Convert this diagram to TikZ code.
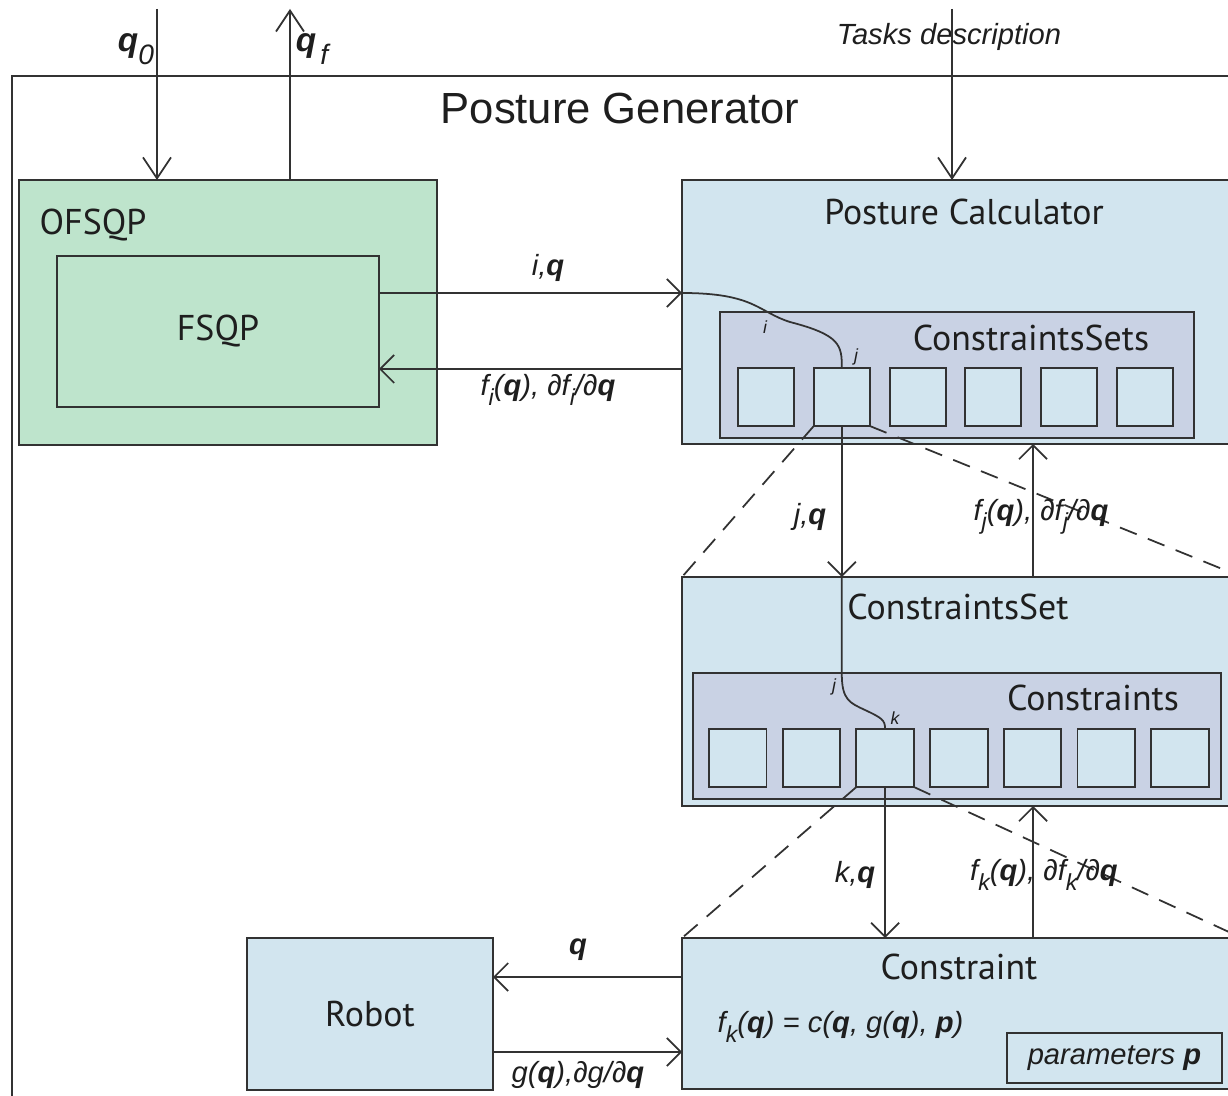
\documentclass[tikz,border=0pt]{standalone}
\usepackage{fontspec}
\setmainfont{Liberation Sans}
\newfontfamily\boxfont{PT Sans}
\usetikzlibrary{arrows.meta}

\definecolor{optgreen}{RGB}{190,228,204}
\definecolor{calcblue}{RGB}{210,229,239}
\definecolor{setgray}{RGB}{201,210,228}
\definecolor{edgegray}{RGB}{50,50,50}
\definecolor{txtgray}{RGB}{30,30,30}

\newcommand{\vq}{\textbf{q}}
\newcommand{\sub}[1]{\raisebox{-0.6ex}{\fontsize{6.6}{7}\selectfont #1}}

\tikzset{
  blk/.style={draw=edgegray, line width=0.55pt, anchor=north west, inner sep=0pt, outer sep=0pt},
  sq/.style={blk, fill=calcblue, minimum width=5.6mm, minimum height=5.8mm},
  ttl/.style={text=txtgray, font=\boxfont\fontsize{10.2}{12}\selectfont, inner sep=0pt},
  lbl/.style={text=txtgray, font=\fontsize{8.3}{10}\selectfont\itshape, inner sep=0pt},
  tinylbl/.style={text=txtgray, font=\fontsize{5}{6}\selectfont\itshape, inner sep=0pt},
  wire/.style={draw=edgegray, line width=0.5pt},
  arr/.style={wire, -{Straight Barb[length=1.4mm,width=2.8mm]}},
  arrlong/.style={wire, -{Straight Barb[length=2.1mm,width=2.8mm]}},
  zoomln/.style={wire, dash pattern=on 1.8mm off 1.2mm},
}

\begin{document}
\begin{tikzpicture}[x=0.1mm,y=-0.1mm]
\useasboundingbox (0,0) rectangle (1228,1096);
\clip (0,0) rectangle (1228,1096);
\fill[white] (0,0) rectangle (1228,1096);
% outer frame
\node[blk, draw=edgegray, minimum width=124mm, minimum height=110mm] (gen) at (12,76) {};
\node[text=txtgray, font=\fontsize{12.4}{14}\selectfont, inner sep=0pt] (gentxt) at (620,108) {Posture Generator};

% optimiser boxes
\node[blk, fill=optgreen, minimum width=41.8mm, minimum height=26.5mm] (ofsqp) at (19,180) {};
\node[ttl, anchor=west] (ofsqptxt) at (39,225) {OFSQP};
\node[blk, fill=optgreen, minimum width=32.2mm, minimum height=15.1mm, ttl] (fsqp) at (57,256) {FSQP};

% posture calculator
\node[blk, fill=calcblue, minimum width=56mm, minimum height=26.4mm] (calc) at (682,180) {};
\node[ttl] (calctxt) at (964,212) {Posture Calculator};
\node[blk, fill=setgray, minimum width=47.4mm, minimum height=12.6mm] (sets) at (720,312) {};
\node[ttl] (setstxt) at (1031,338) {ConstraintsSets};
\foreach \i in {1,...,6}
  \node[sq] (s\i) at ({738+75.8*(\i-1)},368) {};

% constraints set
\node[blk, fill=calcblue, minimum width=56mm, minimum height=22.9mm] (cset) at (682,577) {};
\node[ttl] (csettxt) at (958,607) {ConstraintsSet};
\node[blk, fill=setgray, minimum width=52.8mm, minimum height=12.6mm] (cons) at (693,673) {};
\node[ttl] (constxt) at (1093,698) {Constraints};
\foreach \i in {1,...,7}
  \node[sq, minimum width=5.75mm] (c\i) at ({709+73.7*(\i-1)},729) {};

% constraint and robot
\node[blk, fill=calcblue, minimum width=56mm, minimum height=15.1mm] (cstr) at (682,938) {};
\node[ttl] (cstrtxt) at (959,967) {Constraint};
\node[lbl, anchor=west] (formula) at (717,1027) {f\sub{k}(\vq) = c(\vq, g(\vq), \textbf{p})};
\node[blk, fill=calcblue, minimum width=21.5mm, minimum height=5mm, lbl] (params) at (1007,1033) {parameters \textbf{p}};
\node[blk, fill=calcblue, minimum width=24.6mm, minimum height=15.2mm, ttl] (robot) at (247,938) {Robot};

% inputs and outputs
\coordinate (q0in) at (157,9);
\coordinate (qfout) at (290,9);
\coordinate (taskin) at (952,9);
\draw[arrlong] (q0in) -- (q0in |- ofsqp.north);
\draw[arrlong] (qfout |- ofsqp.north) -- (qfout);
\node[lbl, font=\fontsize{9.5}{10}\selectfont\itshape] (q0lbl) at (136,49) {\vq\raisebox{-0.7ex}{\fontsize{8}{9}\selectfont 0}};
\node[lbl, font=\fontsize{9.5}{10}\selectfont\itshape] (qflbl) at (312,49) {\vq\kern1.2pt\raisebox{-0.7ex}{\fontsize{8}{9}\selectfont f}};
\node[lbl] (tasklbl) at (949,37) {Tasks description};
\draw[arrlong] (taskin) -- (taskin |- calc.north);

% optimiser <-> calculator
\draw[arr] (fsqp.east |- 0,293) -- (calc.west |- 0,293);
\draw[arr] (calc.west |- 0,369) -- (fsqp.east |- 0,369);
\node[lbl] (iqlbl) at (548,268) {i,\vq};
\node[lbl] (filbl) at (548,390) {f\sub{i}(\vq), ∂f\sub{i}/∂\vq};
\draw[wire] (calc.west |- 0,293) .. controls (755,293) and (758,312) .. (790,322)
  .. controls (840,335) and (842,345) .. (s2.north);
\node[tinylbl] (ilbl) at (765,327) {i};
\node[tinylbl] (jlbl) at (856,357) {j};

% calculator <-> constraints set
\draw[zoomln] (s2.south west) -- (cset.north west);
\draw[zoomln] (s2.south east) -- (cset.north east);
\draw[arr] (s2.south) -- (s2.south |- cset.north);
\draw[arr] (cset.north -| 1033,0) -- (calc.south -| 1033,0);
\node[lbl] (jqlbl) at (810,517) {j,\vq};
\node[lbl] (fjlbl) at (1041,517) {f\sub{j}(\vq), ∂f\sub{j}/∂\vq};
\draw[wire] (s2.south |- cset.north) -- (s2.south |- 0,675) .. controls (842,700) and (850,703) .. (865,710)
  .. controls (882,718) and (885,720) .. (c3.north);
\node[tinylbl] (jlbltwo) at (834,687) {j};
\node[tinylbl] (klbl) at (895,718) {k};

% constraints set <-> constraint
\draw[zoomln] (c3.south west) -- (cstr.north west);
\draw[zoomln] (c3.south east) -- (cstr.north east);
\draw[arr] (c3.south) -- (c3.south |- cstr.north);
\draw[arr] (cstr.north -| 1033,0) -- (cset.south -| 1033,0);
\node[lbl] (kqlbl) at (855,875) {k,\vq};
\node[lbl] (fklbl) at (1044,875) {f\sub{k}(\vq), ∂f\sub{k}/∂\vq};

% constraint <-> robot
\draw[arr] (cstr.west |- 0,977) -- (robot.east |- 0,977);
\draw[arr] (robot.east |- 0,1052) -- (cstr.west |- 0,1052);
\node[lbl] (qlbl) at (578,950) {\vq};
\node[lbl] (glbl) at (578,1075) {g(\vq),∂g/∂\vq};
\end{tikzpicture}
\end{document}
